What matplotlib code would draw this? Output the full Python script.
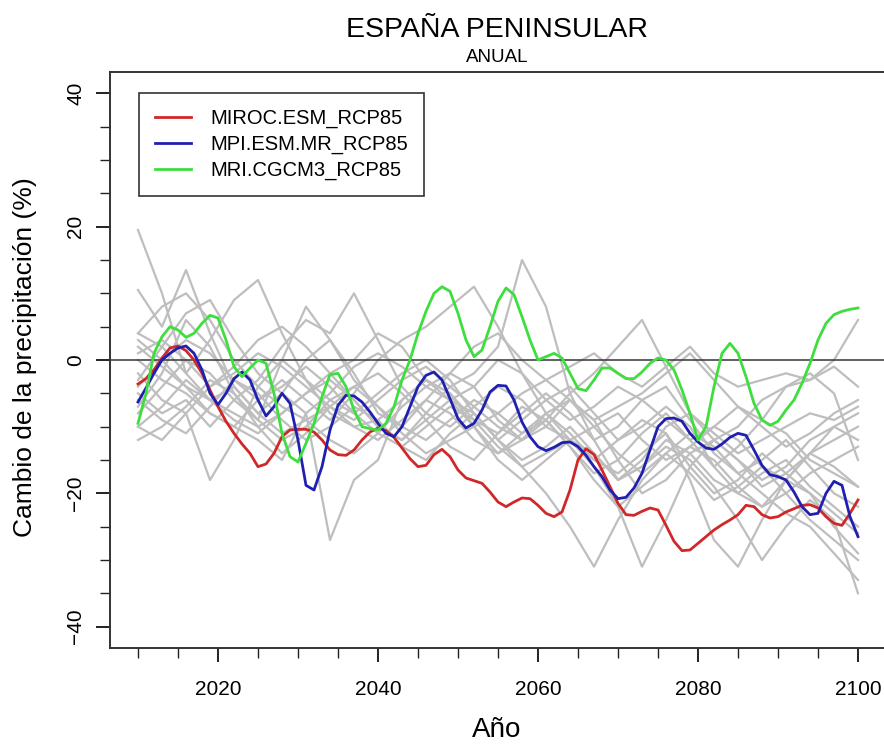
import matplotlib
matplotlib.use("Agg")
import matplotlib.pyplot as plt
import numpy as np

plt.rcParams['font.family'] = ['Liberation Sans', 'DejaVu Sans']

# annual series for the three highlighted models (2010-2100)
years = np.arange(2010, 2101)

miroc = [-3.6, -2.8, -1.5, 0.3, 1.8, 2.1, 1.4, 0.0, -2.0, -4.5,
         -7.0, -9.2, -11.0, -12.6, -14.0, -16.0, -15.6, -14.0, -11.5, -10.5,
         -10.4, -10.4, -10.8, -12.0, -13.5, -14.2, -14.3, -13.5, -12.0, -10.8,
         -10.2, -10.6, -11.6, -13.2, -14.8, -16.0, -15.8, -14.2, -13.4, -14.5,
         -16.5, -17.7, -18.1, -18.5, -19.8, -21.3, -22.0, -21.3, -20.7, -20.8,
         -21.8, -23.0, -23.5, -22.8, -19.5, -15.0, -13.3, -14.2, -16.5, -19.0,
         -21.5, -23.2, -23.3, -22.7, -22.2, -22.5, -24.8, -27.2, -28.6, -28.5,
         -27.5, -26.5, -25.5, -24.7, -24.0, -23.2, -21.8, -22.0, -23.2, -23.7,
         -23.5, -22.8, -22.3, -21.8, -21.7, -22.2, -23.5, -24.5, -24.8, -23.0,
         -21.0]

mpi = [-6.3, -4.2, -2.0, 0.0, 1.0, 1.8, 2.1, 1.0, -1.5, -5.0,
       -6.7, -5.0, -2.8, -1.8, -3.0, -6.0, -8.4, -7.0, -5.0, -6.5,
       -12.0, -18.8, -19.5, -16.0, -10.5, -6.8, -5.3, -5.4, -6.3, -7.8,
       -9.5, -11.0, -11.5, -10.0, -7.0, -4.0, -2.3, -1.8, -3.0, -5.8,
       -8.8, -10.2, -9.5, -7.5, -4.8, -3.8, -3.9, -6.0, -9.3, -11.5,
       -13.0, -13.6, -13.1, -12.4, -12.3, -13.0, -14.3, -16.0, -17.5, -19.5,
       -20.8, -20.6, -19.2, -17.0, -13.5, -10.0, -8.8, -8.7, -9.2, -11.0,
       -12.3, -13.2, -13.4, -12.6, -11.6, -11.0, -11.3, -13.5, -15.8, -17.2,
       -17.5, -18.0, -19.8, -22.0, -23.2, -23.0, -20.0, -18.2, -18.8, -23.5,
       -26.5]

mri = [-9.5, -5.0, 1.0, 3.5, 5.0, 4.5, 3.4, 4.0, 5.5, 6.7,
       6.3, 3.0, -1.0, -2.5, -1.2, 0.0, -0.5, -5.0, -11.0, -14.5,
       -15.3, -12.5, -9.5, -5.5, -2.2, -2.0, -4.0, -7.5, -10.0, -10.3,
       -10.5, -9.5, -7.0, -3.0, 0.0, 4.0, 7.3, 10.0, 11.0, 10.3,
       7.0, 3.0, 0.5, 1.5, 5.0, 8.8, 10.8, 9.8, 6.5, 3.0,
       0.0, 0.5, 1.0, 0.3, -2.0, -4.3, -4.6, -3.0, -1.2, -1.2,
       -2.0, -2.8, -2.8, -1.8, -0.5, 0.3, 0.0, -1.5, -4.5, -8.0,
       -12.0, -10.0, -4.0, 1.0, 2.5, 1.0, -2.5, -6.5, -9.0, -9.8,
       -9.2, -7.5, -6.0, -3.5, -0.5, 3.0, 5.5, 6.8, 7.3, 7.6,
       7.8]

# remaining ensemble members, read every 3 years
years_ens = np.arange(2010, 2101, 3)
ensemble = [
    [19.5, 10, -2, -6, -8, -10, -8, -5, -3, -6, -10, -12, -9, -6, -8, -12, -15, -13, -10, -14, -18, -16, -12, -14, -18, -20, -17, -15, -19, -22, -25],
    [10.5, 5, 13.5, 4, -4, -8, -5, 0, 3, -2, -8, -10, -6, -2, -4, -9, -12, -10, -6, -9, -15, -20, -18, -14, -12, -15, -18, -16, -12, -10, -12],
    [4, 2, -2, 3, 9, 12, 4, -3, -6, -8, -5, -2, 0, -3, -8, -12, -9, -6, -4, -8, -12, -10, -7, -10, -16, -20, -22, -18, -14, -16, -19],
    [-2, -6, -8, -18, -12, -4, 0, -3, -8, -10, -9, -6, -3, -5, -10, -14, -12, -8, -6, -10, -14, -17, -14, -11, -13, -17, -20, -23, -25, -29, -33],
    [0, -3, -5, -8, -10, -12, -15, -8, -27, -18, -15, -6, -3, -5, -9, -11, -8, -5, -8, -12, -10, -6, -4, -9, -14, -17, -15, -12, -16, -20, -22],
    [-5, -8, -6, -10, -6, -3, 2, 6, 4, 10, 3, -4, -8, -10, -7, -4, -6, -10, -12, -15, -12, -9, -11, -16, -20, -18, -14, -17, -20, -23, -26],
    [-8, -4, 0, -2, -6, -9, 0, 8, 3, -3, -7, -10, -12, -9, -6, -8, -11, -9, -13, -18, -22, -19, -16, -13, -15, -19, -22, -20, -17, -15, -13],
    [3, 0, -4, -8, -10, -6, -3, -6, -9, -5, 0, 3, 5, 8, 11, 5, -2, -8, -12, -10, -8, -12, -15, -13, -10, -12, -16, -18, -14, -10, -8],
    [-10, -7, -3, -6, -9, -11, -8, -5, -2, -6, -10, -12, -8, -4, -2, 2, 15, 8, -5, -12, -18, -15, -10, -8, -11, -14, -12, -10, -8, -9, -7],
    [1, 3, 0, -4, -2, 1, -1, -4, -7, -9, -6, -3, -1, -4, -7, -10, -12, -9, -5, -2, 2, 6, -1, -8, -12, -10, -6, -4, -3, 0, 6],
    [-6, -9, -11, -7, -3, -5, -9, -12, -10, -7, -9, -13, -15, -11, -8, -12, -16, -20, -25, -31, -24, -18, -14, -17, -21, -19, -16, -20, -24, -27, -30],
    [-12, -10, -7, -3, -5, -9, -12, -10, -6, -4, -7, -11, -14, -12, -10, -15, -18, -15, -12, -16, -22, -31, -24, -16, -12, -15, -19, -17, -14, -12, -10],
    [2, -1, -4, -6, -4, -8, -11, -9, -7, -10, -12, -9, -6, -8, -12, -14, -11, -8, -11, -15, -17, -14, -11, -18, -27, -31, -24, -18, -20, -25, -29],
    [-4, 0, 3, 1, -3, -6, -4, -1, -4, -8, -11, -13, -10, -7, -9, -13, -16, -14, -12, -14, -18, -16, -13, -15, -19, -24, -30, -25, -21, -24, -35],
    [-7, -2, 6, 2, -5, -10, -14, -11, -7, -4, -2, -5, -9, -13, -15, -11, -7, -9, -13, -17, -15, -11, -8, -12, -16, -13, -9, -11, -15, -17, -19],
    [4, 8, 10, 6, 0, -4, -7, -9, -12, -14, -11, -7, -4, -6, -10, -8, -5, -3, -6, -9, -7, -5, -2, 1, -3, -7, -9, -4, -2, -5, -15],
    [-3, 2, 7, 9, 3, -2, -5, -8, -5, -1, 1, -1, -4, -2, 2, 4, 0, -3, -1, 1, -2, -4, -1, 2, -2, -4, -3, -2, -3, -1, -4],
    [-10, -12, -8, -4, -1, 3, 5, 2, -2, 0, 4, 2, -3, -6, -4, 0, -2, -6, -9, -7, -4, -6, -9, -12, -10, -7, -10, -13, -11, -8, -6],
]

fig = plt.figure(figsize=(8.84, 7.45), dpi=100)
ax = fig.add_axes([110 / 884, 97 / 745, 776 / 884, 576 / 745])

for serie in ensemble:
    ax.plot(years_ens, serie, color='#bebebe', lw=1.6, zorder=1, solid_joinstyle='round')

ax.axhline(0, color='#444444', lw=1.2, zorder=2)

ax.plot(years, miroc, color='#d02828', lw=2.0, label='MIROC.ESM_RCP85', zorder=3)
ax.plot(years, mpi, color='#2020b0', lw=2.0, label='MPI.ESM.MR_RCP85', zorder=3)
ax.plot(years, mri, color='#3ede3e', lw=2.0, label='MRI.CGCM3_RCP85', zorder=3)

ax.set_xlim(2006.5, 2103.5)
ax.set_ylim(-43.2, 43.2)

ax.set_xticks(np.arange(2020, 2101, 20))
ax.set_xticks(np.arange(2010, 2101, 5), minor=True)
ax.set_yticks(np.arange(-40, 41, 20))
ax.set_yticks(np.arange(-40, 41, 5), minor=True)
ax.tick_params(which='major', length=10, width=1.4, labelsize=15, color='#222222')
ax.tick_params(which='minor', length=7, width=1.0, color='#222222')
ax.tick_params(axis='x', pad=13)
ax.tick_params(axis='y', labelrotation=90, pad=8)
for lab in ax.get_yticklabels():
    lab.set_verticalalignment('center')

for sp in ax.spines.values():
    sp.set_color('#333333')
    sp.set_linewidth(1.4)

leg = ax.legend(loc='upper left', bbox_to_anchor=(139 / 884, 1 - 93 / 745),
                bbox_transform=fig.transFigure, borderaxespad=0, fontsize=14.5,
                frameon=True, fancybox=False, edgecolor='#333333', framealpha=1,
                handlelength=1.8, handletextpad=0.95, labelspacing=0.33,
                borderpad=0.8)
leg.get_frame().set_linewidth(1.2)

fig.text(497 / 884, 1 - 30 / 745, 'ESPAÑA PENINSULAR', ha='center', va='center', fontsize=20.5)
fig.text(497 / 884, 1 - 57 / 745, 'ANUAL', ha='center', va='center', fontsize=13.5)
fig.text(25 / 884, 1 - 357 / 745, 'Cambio de la precipitación (%)', ha='center', va='center',
         rotation=90, fontsize=19)
fig.text(497 / 884, 1 - 730 / 745, 'Año', ha='center', va='center', fontsize=20)

fig.savefig('out.png', dpi=100)
